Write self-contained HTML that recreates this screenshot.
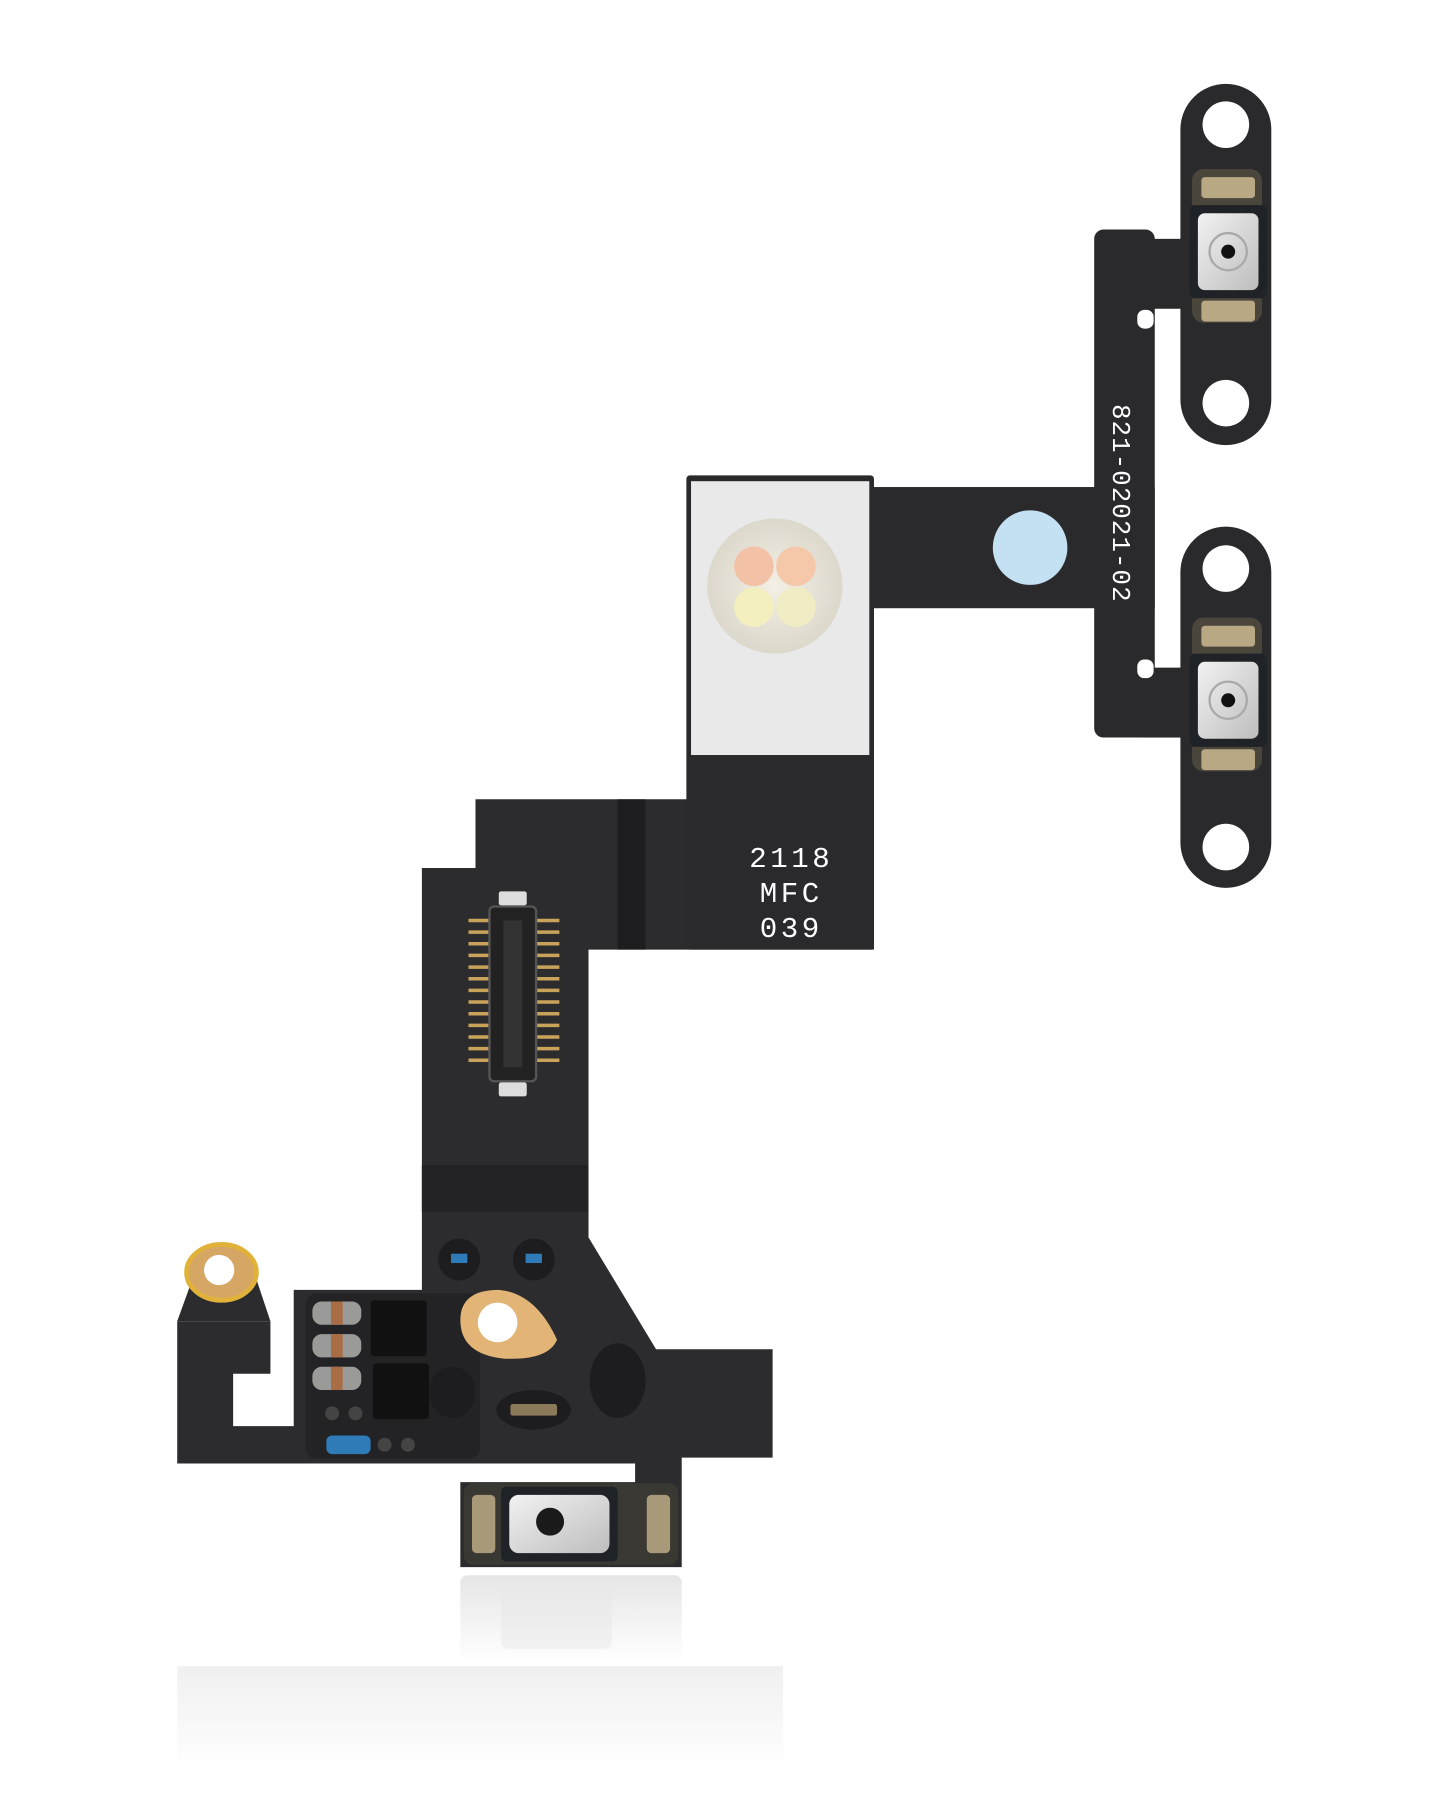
<!DOCTYPE html>
<html><head><meta charset="utf-8"><style>
html,body{margin:0;padding:0;background:#fff;}
svg{display:block;}
</style></head><body>
<svg width="1445" height="1806" viewBox="0 0 1240 1550" xmlns="http://www.w3.org/2000/svg">
<defs>
<radialGradient id="led" cx="50%" cy="50%" r="50%"><stop offset="0" stop-color="#f4efe4"/><stop offset="1" stop-color="#dcd8cc"/></radialGradient>
<linearGradient id="sw" x1="0" y1="0" x2="1" y2="1"><stop offset="0" stop-color="#f2f2f2"/><stop offset="1" stop-color="#bdbdbd"/></linearGradient>
<linearGradient id="fade" x1="0" y1="0" x2="0" y2="1"><stop offset="0" stop-color="#000" stop-opacity="0.10"/><stop offset="1" stop-color="#000" stop-opacity="0"/></linearGradient>
</defs>
<rect width="1240" height="1550" fill="#fff"/>

<!-- reflection -->
<rect x="395" y="1352" width="190" height="75" rx="6" fill="url(#fade)"/>
<rect x="430" y="1360" width="95" height="55" rx="6" fill="#e8e8e8" opacity="0.5"/>
<rect x="152" y="1430" width="520" height="90" fill="url(#fade)" opacity="0.6"/>

<g transform="translate(-9,0)">
<!-- right brackets -->
<g fill="#2a2a2c">
<rect x="1022" y="72" width="78" height="310" rx="39"/>
<rect x="1022" y="452" width="78" height="310" rx="39"/>
<rect x="948" y="197" width="52" height="436" rx="8"/>
<rect x="990" y="205" width="40" height="60"/>
<rect x="990" y="573" width="40" height="60"/>
<rect x="755" y="418" width="245" height="104"/>
</g>
<rect x="985" y="266" width="14" height="16" rx="6" fill="#fff"/>
<rect x="985" y="566" width="14" height="16" rx="6" fill="#fff"/>
<circle cx="1061" cy="107" r="20" fill="#fff"/>
<circle cx="1061" cy="346" r="20" fill="#fff"/>
<circle cx="1061" cy="488" r="20" fill="#fff"/>
<circle cx="1061" cy="727" r="20" fill="#fff"/>
<g>
<rect x="1032" y="145" width="60" height="132" rx="10" fill="#4a463c"/>
<rect x="1040" y="152" width="46" height="18" rx="3" fill="#b8a883"/>
<rect x="1040" y="258" width="46" height="18" rx="3" fill="#b8a883"/>
<rect x="1030" y="176" width="66" height="80" rx="4" fill="#1f2226"/>
<rect x="1037" y="183" width="52" height="66" rx="6" fill="url(#sw)"/>
<circle cx="1063" cy="216" r="16" fill="none" stroke="#aaa" stroke-width="2"/>
<circle cx="1063" cy="216" r="6" fill="#111"/>
</g>
<g transform="translate(0,385)">
<rect x="1032" y="145" width="60" height="132" rx="10" fill="#4a463c"/>
<rect x="1040" y="152" width="46" height="18" rx="3" fill="#b8a883"/>
<rect x="1040" y="258" width="46" height="18" rx="3" fill="#b8a883"/>
<rect x="1030" y="176" width="66" height="80" rx="4" fill="#1f2226"/>
<rect x="1037" y="183" width="52" height="66" rx="6" fill="url(#sw)"/>
<circle cx="1063" cy="216" r="16" fill="none" stroke="#aaa" stroke-width="2"/>
<circle cx="1063" cy="216" r="6" fill="#111"/>
</g>
<circle cx="893" cy="470" r="32" fill="#c4e0f3"/>
<text x="0" y="0" transform="translate(964,432) rotate(90)" fill="#fff" font-family="'Liberation Mono',monospace" font-size="22" text-anchor="middle" letter-spacing="1">821-02021-02</text>
</g>

<!-- main flex -->
<polygon fill="#2c2c2e" points="408,686 750,686 750,815 505,815 505,1062 563,1158 663,1158 663,1251 585,1251 585,1345 395,1345 395,1272 545,1272 545,1256 152,1256 152,1134 232,1134 232,1179 200,1179 200,1224 252,1224 252,1107 362,1107 362,745 408,745"/>
<rect x="530" y="686" width="24" height="129" fill="#1e1e20"/>
<rect x="362" y="1000" width="143" height="40" fill="#232325"/>
<!-- LED block -->
<rect x="596" y="408" width="161" height="407" rx="3" fill="#2a2a2c" transform="translate(-7,0)"/>
<g transform="translate(-7,0)">
<rect x="600" y="413" width="153" height="235" fill="#e9e9e9"/>
<circle cx="672" cy="503" r="58" fill="url(#led)"/>
<circle cx="654" cy="486" r="17" fill="#f3c2a6"/>
<circle cx="690" cy="486" r="17" fill="#f4c8a8"/>
<circle cx="654" cy="521" r="17" fill="#f3efbf"/>
<circle cx="690" cy="521" r="17" fill="#f0ecc4"/>
<g fill="#fff" font-family="'Liberation Mono',monospace" font-size="25" text-anchor="middle" letter-spacing="3">
<text x="686" y="744">2118</text>
<text x="686" y="774">MFC</text>
<text x="686" y="804">039</text>
</g>
</g>

<!-- connector -->
<g>
<g stroke="#c9a35a" stroke-width="3">
<line x1="402" y1="790" x2="480" y2="790"/><line x1="402" y1="800" x2="480" y2="800"/>
<line x1="402" y1="810" x2="480" y2="810"/><line x1="402" y1="820" x2="480" y2="820"/>
<line x1="402" y1="830" x2="480" y2="830"/><line x1="402" y1="840" x2="480" y2="840"/>
<line x1="402" y1="850" x2="480" y2="850"/><line x1="402" y1="860" x2="480" y2="860"/>
<line x1="402" y1="870" x2="480" y2="870"/><line x1="402" y1="880" x2="480" y2="880"/>
<line x1="402" y1="890" x2="480" y2="890"/><line x1="402" y1="900" x2="480" y2="900"/>
<line x1="402" y1="910" x2="480" y2="910"/>
</g>
<rect x="420" y="778" width="40" height="150" rx="4" fill="#222" stroke="#555" stroke-width="2"/>
<rect x="432" y="790" width="16" height="126" fill="#333"/>
<rect x="428" y="765" width="24" height="12" rx="2" fill="#ddd"/>
<rect x="428" y="929" width="24" height="12" rx="2" fill="#ddd"/>
</g>

<!-- ring -->
<path d="M165 1098 L220 1098 L232 1134 L152 1134 Z" fill="#2c2c2e"/>
<ellipse cx="190" cy="1092" rx="30" ry="24" fill="#d6a665" stroke="#e0b23a" stroke-width="4"/>
<circle cx="188" cy="1090" r="13" fill="#fff"/>

<!-- components -->
<rect x="262" y="1110" width="150" height="142" rx="10" fill="#232325"/>
<g>
<rect x="268" y="1117" width="42" height="20" rx="8" fill="#9a9a98"/><rect x="284" y="1117" width="10" height="20" fill="#a86d45"/>
<rect x="268" y="1145" width="42" height="20" rx="8" fill="#9a9a98"/><rect x="284" y="1145" width="10" height="20" fill="#a86d45"/>
<rect x="268" y="1173" width="42" height="20" rx="8" fill="#9a9a98"/><rect x="284" y="1173" width="10" height="20" fill="#a86d45"/>
<rect x="318" y="1116" width="48" height="48" rx="3" fill="#111"/>
<rect x="320" y="1170" width="48" height="48" rx="3" fill="#111"/>
<rect x="280" y="1232" width="38" height="16" rx="5" fill="#2e7bb8"/>
<circle cx="285" cy="1213" r="6" fill="#444"/><circle cx="305" cy="1213" r="6" fill="#444"/>
<circle cx="330" cy="1240" r="6" fill="#444"/><circle cx="350" cy="1240" r="6" fill="#444"/>
</g>
<circle cx="394" cy="1081" r="18" fill="#1d1d1f"/><rect x="387" y="1076" width="14" height="8" fill="#2e7bb8"/>
<circle cx="458" cy="1081" r="18" fill="#1d1d1f"/><rect x="451" y="1076" width="14" height="8" fill="#2e7bb8"/>
<path d="M395 1133 Q395 1107 428 1107 Q460 1110 478 1150 Q470 1168 432 1166 Q395 1162 395 1133 Z" fill="#e2b577"/>
<circle cx="427" cy="1135" r="17" fill="#fff"/>
<ellipse cx="388" cy="1195" rx="20" ry="22" fill="#1d1d1f"/>
<ellipse cx="458" cy="1210" rx="32" ry="17" fill="#1d1d1f"/>
<rect x="438" y="1205" width="40" height="10" rx="2" fill="#8a7a5a"/>
<ellipse cx="530" cy="1185" rx="24" ry="32" fill="#1d1d1f"/>

<!-- bottom switch -->
<rect x="398" y="1273" width="184" height="70" rx="8" fill="#3a3832"/>
<rect x="405" y="1283" width="20" height="50" rx="4" fill="#a89a78"/>
<rect x="555" y="1283" width="20" height="50" rx="4" fill="#a89a78"/>
<rect x="430" y="1276" width="100" height="64" rx="4" fill="#1f2226"/>
<rect x="437" y="1283" width="86" height="50" rx="8" fill="url(#sw)"/>
<circle cx="472" cy="1306" r="12" fill="#1a1a1a"/>
</svg>
</body></html>
